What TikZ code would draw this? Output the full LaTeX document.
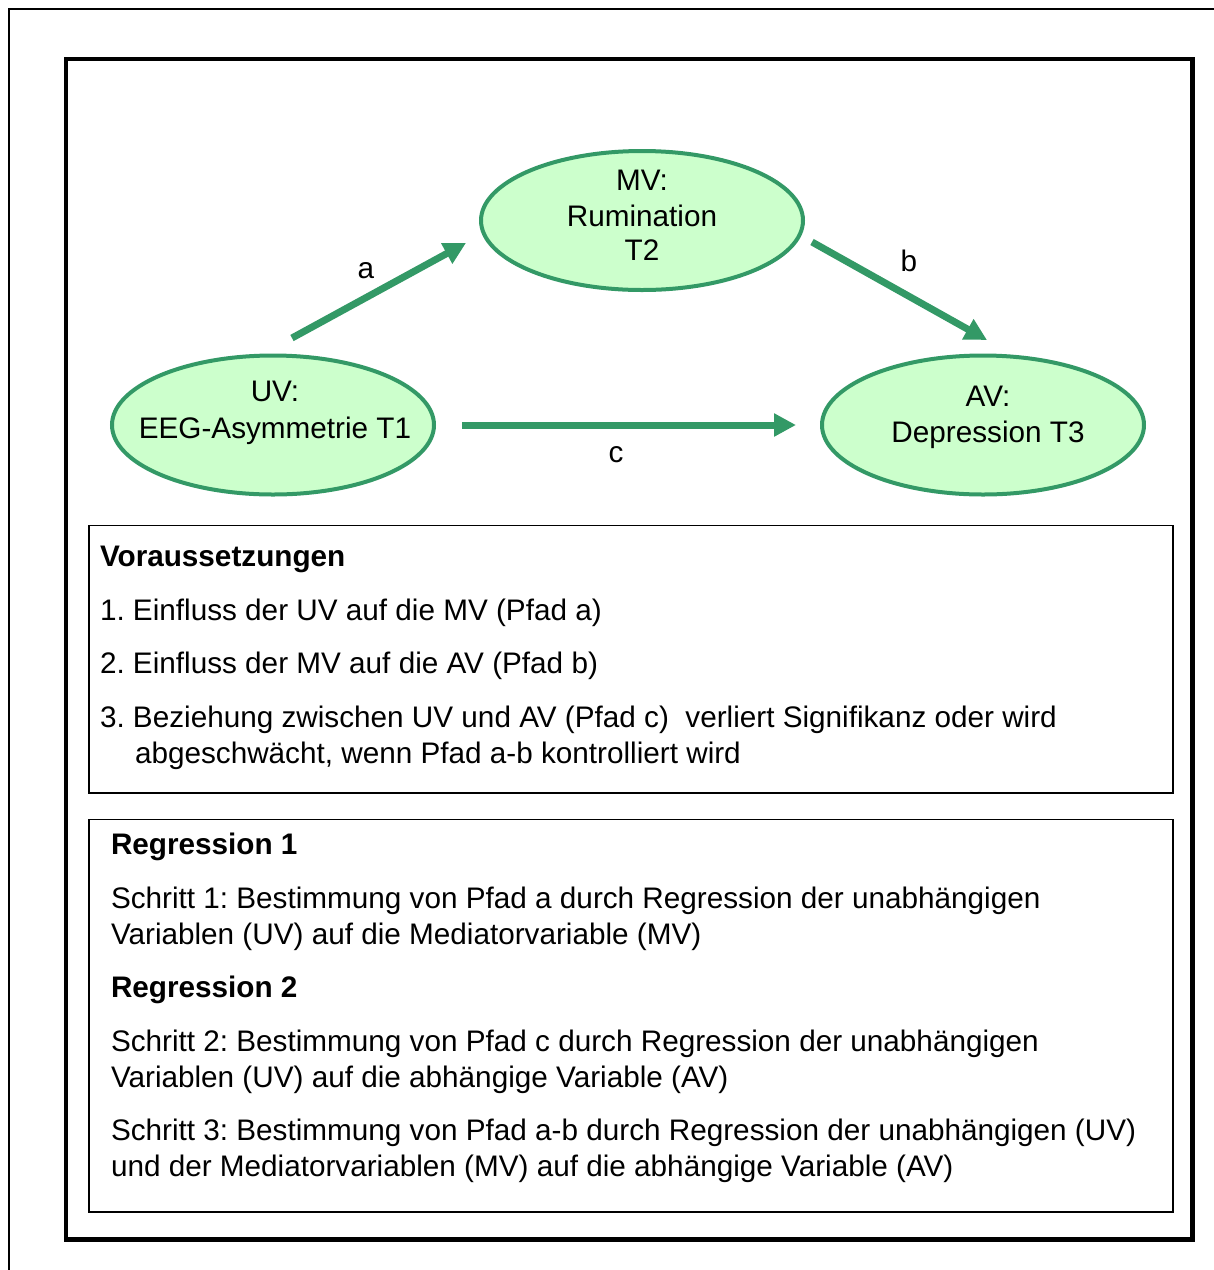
\documentclass[tikz,border=0pt]{standalone}
\usepackage{fontspec}
\setmainfont{Liberation Sans}
\usetikzlibrary{arrows.meta,shapes.geometric}
\definecolor{ellfill}{HTML}{CCFFCC}
\definecolor{grn}{HTML}{339966}
\frenchspacing
\begin{document}
\begin{tikzpicture}[x=1pt,y=-1pt,
  every node/.style={font=\fontsize{29.7}{36}\selectfont\frenchspacing, inner sep=0pt, outer sep=0pt},
  ell/.style={ellipse, draw=grn, fill=ellfill, line width=4pt, minimum width=322pt, minimum height=139pt},
  txt/.style={anchor=base west},
  ctxt/.style={anchor=base},
  conn/.style={draw=grn, line width=7pt, -{Triangle[length=22pt,width=22pt]}},
  box/.style={draw=black, line width=1.5pt}
]
\useasboundingbox (0,0) rectangle (1214,1270);
% outer frame (cropped)
\draw[line width=2.5pt] (9,1275) -- (9,9) -- (1220,9);
% inner thick frame
\draw[line width=4.5pt] (66,59) rectangle (1192.5,1239.5);

% ellipses
\node[ell] (mv) at (642,220.5) {};
\node[ell] (uv) at (273,425) {};
\node[ell] (av) at (983,425) {};

\node[ctxt] (mvt1) at (642,190) {MV:};
\node[ctxt] (mvt2) at (642,226) {Rumination};
\node[ctxt] (mvt3) at (642,260) {T2};
\node[ctxt] (uvt1) at (275,401) {UV:};
\node[ctxt] (uvt2) at (275,438) {EEG-Asymmetrie T1};
\node[ctxt] (avt1) at (988,406) {AV:};
\node[ctxt] (avt2) at (988,442) {Depression T3};

% connectors
\coordinate (a0) at (292,338);
\coordinate (a1) at (466,243);
\coordinate (b0) at (812,242);
\coordinate (b1) at (987,340);
\coordinate (c0) at (462,425);
\coordinate (c1) at (796,425);
\draw[conn] (a0) -- (a1);
\draw[conn] (b0) -- (b1);
\draw[conn] (c0) -- (c1);
\node[ctxt] (la) at (366,278) {a};
\node[ctxt] (lb) at (909,271) {b};
\node[ctxt] (lc) at (616,462) {c};

% box 1
\draw[box] (89,525.5) rectangle (1173,793);
\node[txt] (v0) at (100,566) {\bfseries Voraussetzungen};
\node[txt] (v1) at (100,620) {1. Einfluss der UV auf die MV (Pfad a)};
\node[txt] (v2) at (100,673) {2. Einfluss der MV auf die AV (Pfad b)};
\node[txt] (v3) at (100,727) {3. Beziehung zwischen UV und AV (Pfad c) \ verliert Signifikanz oder wird};
\node[txt] (v4) at (135,763) {abgeschwächt, wenn Pfad a-b kontrolliert wird};

% box 2
\draw[box] (89,819.5) rectangle (1173,1212);
\node[txt] (r1) at (111,854) {\bfseries Regression 1};
\node[txt] (s1a) at (111,908) {Schritt 1: Bestimmung von Pfad a durch Regression der unabhängigen};
\node[txt] (s1b) at (111,944) {Variablen (UV) auf die Mediatorvariable (MV)};
\node[txt] (r2) at (111,997) {\bfseries Regression 2};
\node[txt] (s2a) at (111,1051) {Schritt 2: Bestimmung von Pfad c durch Regression der unabhängigen};
\node[txt] (s2b) at (111,1087) {Variablen (UV) auf die abhängige Variable (AV)};
\node[txt] (s3a) at (111,1140) {Schritt 3: Bestimmung von Pfad a-b durch Regression der unabhängigen (UV)};
\node[txt] (s3b) at (111,1176) {und der Mediatorvariablen (MV) auf die abhängige Variable (AV)};
\end{tikzpicture}
\end{document}
